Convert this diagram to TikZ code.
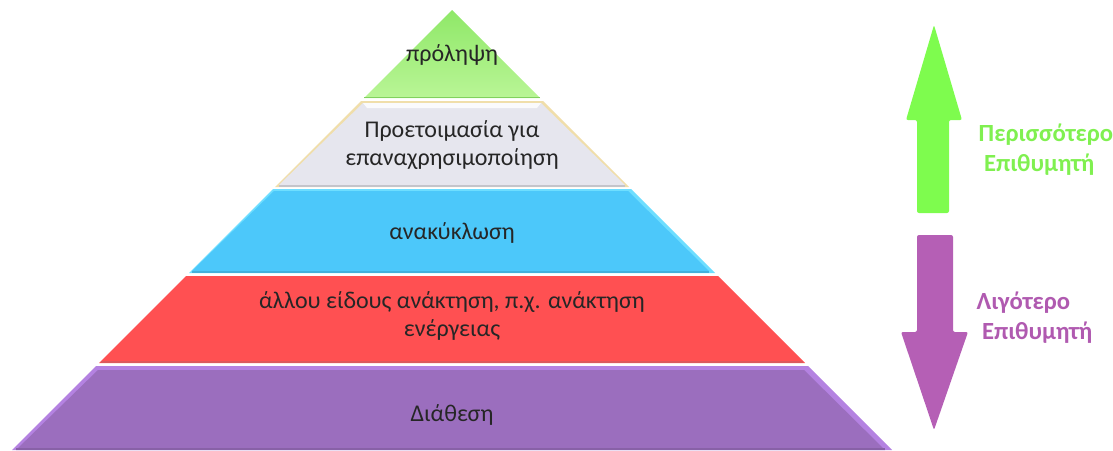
\documentclass[tikz,border=0pt]{standalone}
\usepackage{fontspec}
\setmainfont{Carlito}
\usepackage{tikz}
\usetikzlibrary{positioning, calc}
\usepackage{xcolor}

\definecolor{grnface}{RGB}{143,232,104}
\definecolor{grnlite}{RGB}{185,245,150}
\definecolor{whtface}{RGB}{230,230,238}
\definecolor{whtlite}{RGB}{250,250,252}
\definecolor{whtedge}{RGB}{240,222,170}
\definecolor{bluface}{RGB}{76,200,250}
\definecolor{blulite}{RGB}{110,222,255}
\definecolor{redface}{RGB}{255,80,82}
\definecolor{reddark}{RGB}{220,88,92}
\definecolor{purface}{RGB}{155,110,190}
\definecolor{purlite}{RGB}{180,130,225}
\definecolor{upgreen}{RGB}{126,252,78}
\definecolor{downpurple}{RGB}{181,95,181}
\definecolor{moregreen}{RGB}{128,240,80}
\definecolor{lesspurple}{RGB}{176,90,176}

\tikzset{
  layertext/.style={align=center, font=\fontsize{18}{21}\selectfont, text=black!85},
  sidetext/.style={align=left, font=\fontsize{18.5}{22.5}\selectfont\bfseries}
}

\begin{document}
\begin{tikzpicture}[x=0.75pt, y=-0.75pt]
  \useasboundingbox (0,0) rectangle (1113,450);

  % prolepsis (top)
  \shade[top color=grnface, bottom color=grnlite] (452,10) -- (540,98) -- (364,98) -- cycle;
  \fill[grnface!90!black] (364,97) rectangle (540,98);

  % reuse
  \fill[whtedge] (361,101) -- (543,101) -- (629,187) -- (275,187) -- cycle;
  \fill[whtface] (363,103) -- (541,103) -- (625,185) -- (279,185) -- cycle;
  \fill[whtlite] (363,103) -- (541,103) -- (537,108) -- (367,108) -- cycle;
  \fill[whtface!85!black] (279,185) rectangle (625,187);

  % recycling
  \fill[blulite] (273,189) -- (631,189) -- (715,273) -- (189,273) -- cycle;
  \fill[bluface] (274,191) -- (628,191) -- (709,271) -- (192,271) -- cycle;
  \fill[bluface!88!black] (192,271) rectangle (709,273);

  % other recovery
  \fill[redface] (186,276) -- (718,276) -- (805,363) -- (99,363) -- cycle;
  \fill[reddark] (101,361) rectangle (803,363);

  % disposal
  \fill[purlite] (96,366) -- (808,366) -- (892,450) -- (12,450) -- cycle;
  \fill[purface] (98,370) -- (804,370) -- (885,450) -- (16,450) -- cycle;
  \fill[purface!88!black] (16,448) rectangle (885,450);

  \node[layertext] (prevent) at (452,55) {πρόληψη};
  \node[layertext] (reuse) at (452,145) {Προετοιμασία για\\επαναχρησιμοποίηση};
  \node[layertext] (recycle) at (452,233) {ανακύκλωση};
  \node[layertext] (recover) at (452,316) {άλλου είδους ανάκτηση, π.χ. ανάκτηση\\ενέργειας};
  \node[layertext] (dispose) at (452,415) {Διάθεση};

  % arrows on the right
  \fill[upgreen, rounded corners=1.5pt] (934,25) -- (962,120) -- (949,120) -- (949,213) -- (917,213) -- (917,120) -- (906,120) -- cycle;
  \fill[downpurple, rounded corners=1.5pt] (917,235) -- (953,235) -- (953,332) -- (968,332) -- (934,430) -- (901,332) -- (917,332) -- cycle;

  \node[sidetext, text=moregreen, anchor=west] (more) at (974,150) {Περισσότερο\\\hspace*{4pt}Επιθυμητή};
  \node[sidetext, text=lesspurple, anchor=west] (less) at (972,318) {Λιγότερο\\\hspace*{4pt}Επιθυμητή};
\end{tikzpicture}
\end{document}
